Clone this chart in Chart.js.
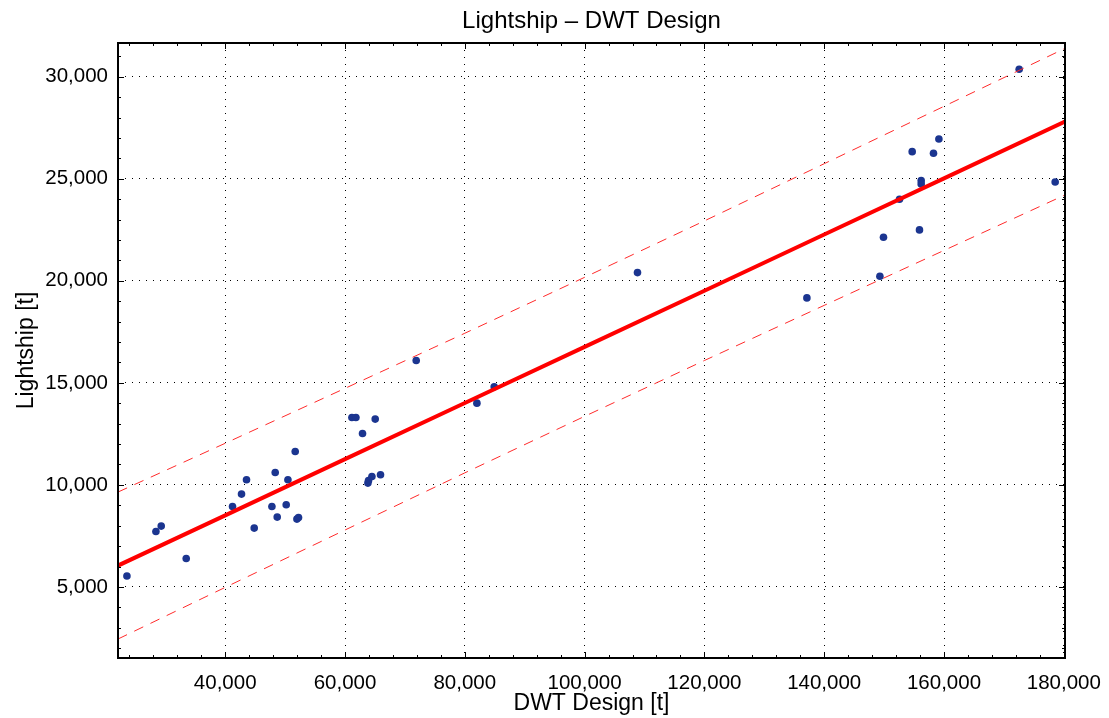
<!DOCTYPE html>
<html>
<head>
<meta charset="utf-8">
<title>Lightship - DWT Design</title>
<script src="https://cdn.jsdelivr.net/npm/chart.js@4.4.1/dist/chart.umd.min.js"></script>
<style>
    body { margin: 0; background: #fff; }
    #caixa { width: 1109px; height: 718px; position: relative; }
</style>
</head>
<body>
<div id="caixa"><canvas id="grafico-lightship"></canvas></div>
<script>
// dados (DWT design x lightship)
const DWT = [23590, 28431, 29316, 33489, 41219, 42721, 43556, 44841, 47796, 48347,
             48681, 50183, 50467, 51970, 52237, 51686, 61151, 61819, 65041, 62921,
             63823, 63923, 64490, 65926, 71886, 82019, 84907, 108829, 137109, 149296,
             149897, 152568, 154687, 155906, 156190, 156190, 158245, 159146, 172550, 178560];
const LIGHTSHIP = [5534, 7719, 7983, 6396, 8943, 9550, 10250, 7885, 8943, 10608,
                   8424, 9026, 10250, 8326, 8404, 11636, 13301, 13301, 13223, 12518,
                   10089, 10216, 10412, 10495, 16093, 14006, 14805, 20402, 19163, 20226,
                   22135, 23996, 26327, 22493, 24907, 24745, 26249, 26949, 30362, 24843];

// reta de regressao e banda de previsao
const FAIXA_X   = [22100, 40000, 60000, 80000, 100000, 120000, 140000, 160000, 180200];
const AJUSTE    = [6048, 8510, 11262, 14013, 16764, 19515, 22266, 25018, 27796];
const SUPERIOR  = [9650, 12040, 14730, 17430, 20170, 22935, 25736, 28548, 31386];
const INFERIOR  = [2450, 4980, 7790, 10590, 13360, 16095, 18796, 21488, 24206];

// ticks dos eixos
const TICKS_X = [40000, 60000, 80000, 100000, 120000, 140000, 160000, 180000];
const TICKS_Y = [5000, 10000, 15000, 20000, 25000, 30000];

const X_MIN = 22100, X_MAX = 180200, X_MENOR = 4000;
const Y_MIN = 1520,  Y_MAX = 31650,  Y_MENOR = 1000;

function pares(xs, ys) {
    let lista = [];
    for (let i = 0; i < xs.length; i++) {
        lista.push({ x: xs[i], y: ys[i] });
    }
    return lista;
}

// moldura preta com tracinhos para dentro nos quatro lados
const moldura = {
    id: 'moldura',
    afterDraw(chart) {
        const ctx = chart.ctx;
        const a = chart.chartArea;
        const sx = chart.scales.x, sy = chart.scales.y;
        ctx.save();
        ctx.strokeStyle = '#000';
        ctx.lineWidth = 1;
        ctx.beginPath();

        for (let v = Math.ceil(X_MIN / X_MENOR) * X_MENOR; v <= X_MAX; v += X_MENOR) {
            const px = Math.round(sx.getPixelForValue(v)) + 0.5;
            const t = TICKS_X.includes(v) ? 6 : 3;
            ctx.moveTo(px, a.bottom); ctx.lineTo(px, a.bottom - t);
            ctx.moveTo(px, a.top);    ctx.lineTo(px, a.top + t);
        }
        for (let v = Math.ceil(Y_MIN / Y_MENOR) * Y_MENOR; v <= Y_MAX; v += Y_MENOR) {
            const py = Math.round(sy.getPixelForValue(v)) + 0.5;
            const t = TICKS_Y.includes(v) ? 6 : 3;
            ctx.moveTo(a.left, py);  ctx.lineTo(a.left + t, py);
            ctx.moveTo(a.right, py); ctx.lineTo(a.right - t, py);
        }
        ctx.stroke();

        ctx.lineWidth = 2;
        ctx.strokeRect(a.left, a.top, a.right - a.left, a.bottom - a.top);
        ctx.restore();
    }
};

const FONTE = "'Liberation Sans', Arial, Helvetica, sans-serif";

new Chart(document.getElementById("grafico-lightship"), {
    type: 'scatter',
    data: {
        datasets: [
            {
                label: 'Ajuste',
                data: pares(FAIXA_X, AJUSTE),
                showLine: true,
                borderColor: '#ff0000',
                borderWidth: 4,
                pointRadius: 0,
                order: 1
            },
            {
                label: 'Superior',
                data: pares(FAIXA_X, SUPERIOR),
                showLine: true,
                borderColor: '#ff2a2a',
                borderWidth: 1,
                borderDash: [10, 8],
                pointRadius: 0,
                order: 2
            },
            {
                label: 'Inferior',
                data: pares(FAIXA_X, INFERIOR),
                showLine: true,
                borderColor: '#ff2a2a',
                borderWidth: 1,
                borderDash: [10, 8],
                pointRadius: 0,
                order: 3
            },
            {
                label: 'Navios',
                data: pares(DWT, LIGHTSHIP),
                backgroundColor: '#1b3590',
                borderColor: '#1b3590',
                borderWidth: 0,
                pointRadius: 3.8,
                order: 4
            }
        ]
    },
    options: {
        responsive: true,
        maintainAspectRatio: false,
        animation: false,
        layout: { padding: { left: 0, right: 44, top: 0, bottom: 0 } },
        plugins: {
            legend: { display: false },
            tooltip: { enabled: false },
            title: {
                display: true,
                fullSize: false,
                text: 'Lightship \u2013 DWT Design',
                color: '#000',
                font: { family: FONTE, size: 24, weight: 'normal' },
                padding: { top: 7, bottom: 7.2 }
            }
        },
        scales: {
            x: {
                type: 'linear',
                min: X_MIN,
                max: X_MAX,
                afterFit: function(scale) {
                    scale.height = 60;
                    scale.paddingLeft = 0;
                    scale.paddingRight = 0;
                },
                afterBuildTicks: function(scale) {
                    scale.ticks = TICKS_X.map(v => ({ value: v }));
                },
                grid: { color: '#000', lineWidth: 1, drawTicks: false },
                border: { display: false, dash: [1, 6] },
                ticks: {
                    color: '#000',
                    padding: 13,
                    maxRotation: 0,
                    autoSkip: false,
                    font: { family: FONTE, size: 20.5 }
                },
                title: {
                    display: true,
                    text: 'DWT Design [t]',
                    color: '#000',
                    font: { family: FONTE, size: 23 },
                    padding: { top: 0, bottom: 1 }
                }
            },
            y: {
                type: 'linear',
                min: Y_MIN,
                max: Y_MAX,
                afterFit: function(scale) { scale.width = 118; },
                afterBuildTicks: function(scale) {
                    scale.ticks = TICKS_Y.map(v => ({ value: v }));
                },
                grid: { color: '#000', lineWidth: 1, drawTicks: false },
                border: { display: false, dash: [1, 6] },
                ticks: {
                    color: '#000',
                    padding: 10,
                    autoSkip: false,
                    font: { family: FONTE, size: 20.5 }
                },
                title: {
                    display: true,
                    text: 'Lightship [t]',
                    color: '#000',
                    font: { family: FONTE, size: 23 },
                    padding: { top: 13, bottom: 0 }
                }
            }
        }
    },
    plugins: [moldura]
});
</script>
</body>
</html>
